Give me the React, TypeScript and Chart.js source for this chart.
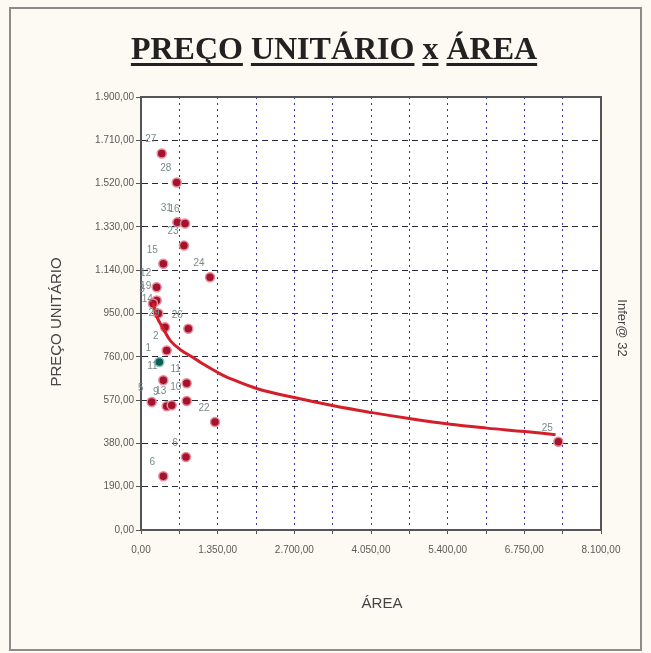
import { useEffect, useRef } from "react";
import { Chart, registerables } from "chart.js";

Chart.register(...registerables);

const W = 651;
const H = 653;

// Sample data (ÁREA, PREÇO UNITÁRIO, label)
const areaValues = [365, 629, 640, 775, 757, 393, 1215, 276, 276, 211, 305, 423, 833, 453, 322, 393, 805, 188, 453, 541, 805, 1303, 792, 393, 7349];
const priceValues = [1652, 1525, 1350, 1345, 1248, 1168, 1109, 1065, 1007, 994, 950, 890, 883, 788, 737, 657, 644, 562, 543, 547, 566, 474, 320, 236, 387];
const pointLabels = ["27", "28", "31", "16", "23", "15", "24", "12", "19", "3", "14", "29", "26", "2", "1", "11", "11", "5", "9", "13", "10", "22", "6", "6", "25"];
const highlighted = [14];

// Trend curve
const curveX = [215, 280, 400, 520, 700, 930, 1050, 1360, 1520, 2050, 2720, 3390, 4070, 4750, 5410, 6090, 6760, 7300];
const curveY = [995, 935, 880, 830, 790, 755, 735, 690, 670, 620, 580, 545, 515, 488, 465, 447, 432, 418];

const yTicks = [0, 190, 380, 570, 760, 950, 1140, 1330, 1520, 1710, 1900];
const xTicks = [0, 675, 1350, 2025, 2700, 3375, 4050, 4725, 5400, 6075, 6750, 7425, 8100];
const xLabeled = [0, 1350, 2700, 4050, 5400, 6750, 8100];

const titleWords = ["PREÇO", "UNITÁRIO", "x", "ÁREA"];
const yTitle = "PREÇO UNITÁRIO";
const xTitle = "ÁREA";
const sideNote = "Infer@ 32";

function fmt(v: number): string {
  const s = v.toFixed(2);
  const [intPart, dec] = s.split(".");
  const withDots = intPart.replace(/\B(?=(\d{3})+(?!\d))/g, ".");
  return withDots + "," + dec;
}

const decorPlugin = {
  id: "decor",
  beforeDraw(chart: any) {
    const { ctx, chartArea } = chart;
    ctx.save();
    ctx.fillStyle = "#fcfaf3";
    ctx.fillRect(0, 0, W, H);
    ctx.fillStyle = "#ffffff";
    ctx.fillRect(chartArea.left, chartArea.top, chartArea.right - chartArea.left, chartArea.bottom - chartArea.top);
    ctx.strokeStyle = "#8c8c8c";
    ctx.lineWidth = 2;
    ctx.strokeRect(10, 8, 631, 642);
    ctx.restore();
  },
  afterDraw(chart: any) {
    const { ctx, chartArea } = chart;
    ctx.save();
    // plot frame
    ctx.strokeStyle = "#555";
    ctx.lineWidth = 2;
    ctx.strokeRect(chartArea.left, chartArea.top, chartArea.right - chartArea.left, chartArea.bottom - chartArea.top);

    // title with underlined words
    ctx.font = 'bold 32px "Liberation Serif"';
    ctx.fillStyle = "#222";
    ctx.textBaseline = "alphabetic";
    const space = ctx.measureText(" ").width;
    const widths = titleWords.map((w) => ctx.measureText(w).width);
    const total = widths.reduce((a, b) => a + b, 0) + space * (titleWords.length - 1);
    let x = 334 - total / 2;
    const base = 59;
    titleWords.forEach((w, i) => {
      ctx.fillText(w, x, base);
      ctx.fillRect(x, base + 4, widths[i], 3);
      x += widths[i] + space;
    });

    // axis titles
    ctx.fillStyle = "#444";
    ctx.font = '15px "Liberation Sans"';
    ctx.textAlign = "center";
    ctx.textBaseline = "middle";
    ctx.fillText(xTitle, 382, 604);
    ctx.save();
    ctx.translate(57, 322);
    ctx.rotate(-Math.PI / 2);
    ctx.fillText(yTitle, 0, 0);
    ctx.restore();

    ctx.save();
    ctx.font = '13px "Liberation Sans"';
    ctx.translate(622, 328);
    ctx.rotate(Math.PI / 2);
    ctx.fillText(sideNote, 0, 0);
    ctx.restore();

    // point labels
    const meta = chart.getDatasetMeta(1);
    ctx.font = '10px "Liberation Sans"';
    ctx.fillStyle = "#7a8a8b";
    ctx.textAlign = "center";
    meta.data.forEach((el: any, i: number) => {
      ctx.fillText(pointLabels[i], el.x - 11, el.y - 14);
    });
    ctx.restore();
  },
};

export default function App() {
  const ref = useRef<HTMLCanvasElement | null>(null);

  useEffect(() => {
    if (!ref.current) return;
    const chart = new Chart(ref.current, {
      type: "scatter",
      data: {
        datasets: [
          {
            type: "line",
            label: "curve",
            data: curveX.map((x, i) => ({ x, y: curveY[i] })),
            borderColor: "#d41f2a",
            borderWidth: 3,
            pointRadius: 0,
            tension: 0.4,
            fill: false,
          } as any,
          {
            label: "dados",
            data: areaValues.map((x, i) => ({ x, y: priceValues[i] })),
            pointRadius: 4.5,
            pointBackgroundColor: areaValues.map((_, i) => (highlighted.includes(i) ? "#0f5a52" : "#a3142c")),
            pointBorderColor: areaValues.map((_, i) => (highlighted.includes(i) ? "#7fc7bd" : "#e88a9a")),
            pointBorderWidth: 1.5,
          },
        ],
      },
      options: {
        responsive: false,
        animation: false,
        layout: { padding: { top: 97, right: 50, bottom: 0, left: 0 } },
        plugins: { legend: { display: false }, tooltip: { enabled: false }, title: { display: false } },
        scales: {
          x: {
            type: "linear",
            min: 0,
            max: 8100,
            afterFit: (s: any) => {
              s.height = 123;
            },
            afterBuildTicks: (s: any) => {
              s.ticks = xTicks.map((v) => ({ value: v }));
            },
            ticks: {
              autoSkip: false,
              maxRotation: 0,
              padding: 10,
              color: "#5a5a5a",
              font: { size: 10, family: "Liberation Sans" },
              callback: (v: any) => (xLabeled.includes(Number(v)) ? fmt(Number(v)) : ""),
            },
            grid: {
              color: "#3434b8",
              lineWidth: 1,
              tickLength: 4,
              tickColor: "#555",
              tickBorderDash: [],
            } as any,
            border: { display: true, color: "#555", width: 2, dash: [2, 4] },
          },
          y: {
            type: "linear",
            min: 0,
            max: 1900,
            afterFit: (s: any) => {
              s.width = 141;
            },
            afterBuildTicks: (s: any) => {
              s.ticks = yTicks.map((v) => ({ value: v }));
            },
            ticks: {
              autoSkip: false,
              padding: 2,
              color: "#5a5a5a",
              font: { size: 10, family: "Liberation Sans" },
              callback: (v: any) => fmt(Number(v)),
            },
            grid: {
              color: "#2a2a3a",
              lineWidth: 1,
              tickLength: 5,
              tickColor: "#555",
              tickBorderDash: [],
            } as any,
            border: { display: true, color: "#555", width: 2, dash: [6, 4] },
          },
        },
      },
      plugins: [decorPlugin],
    });
    return () => chart.destroy();
  }, []);

  return (
    <div style={{ position: "fixed", left: 0, top: 0, width: W, height: H }}>
      <canvas ref={ref} width={W} height={H} style={{ width: W, height: H, display: "block" }} />
    </div>
  );
}
